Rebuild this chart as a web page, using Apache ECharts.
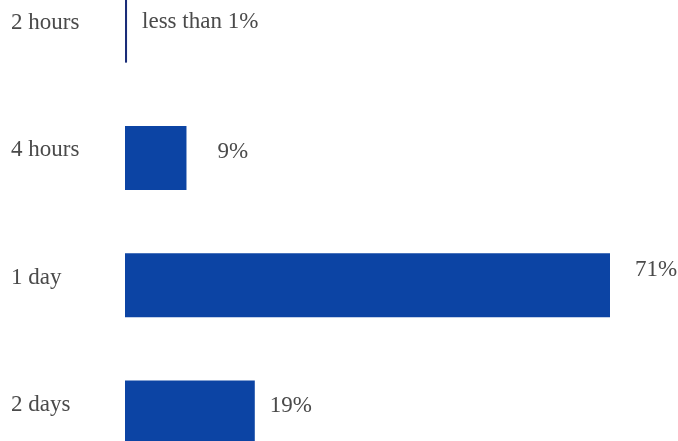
<!DOCTYPE html>
<html>
<head>
<meta charset="utf-8">
<script src="https://cdn.jsdelivr.net/npm/echarts@6/dist/echarts.min.js"></script>
<style>html,body{margin:0;padding:0;background:#fff;}#c{width:678px;height:441px;}</style>
</head>
<body>
<div id="c"></div>
<script>
const categories = ['2 hours', '4 hours', '1 day', '2 days'];
const values = [0.3, 9, 71, 19];
const valueLabels = ['less than 1%', '9%', '71%', '19%'];

// label placement (style only)
const labelDistance = [15, 31, 25, 15];
const labelDy = [-9, -6, -15, -6];

const chart = echarts.init(document.getElementById('c'), null, {renderer: 'canvas'});
const font = '"Liberation Serif", "DejaVu Serif", serif';
chart.setOption({
  animation: false,
  grid: {left: 125, right: 68, top: -33, bottom: -35, containLabel: false, outerBoundsMode: 'none'},
  xAxis: {type: 'value', min: 0, max: 71, show: false},
  yAxis: {
    type: 'category', data: categories, inverse: true,
    axisLine: {show: false}, axisTick: {show: false}, splitLine: {show: false},
    axisLabel: {align: 'left', margin: 114, fontFamily: font, fontSize: 23, color: '#4a4a4a',
      verticalAlign: 'bottom', lineHeight: 15}
  },
  series: [{
    type: 'bar', barWidth: 64,
    itemStyle: {color: '#0c44a4'},
    data: values.map((v, i) => ({
      value: v,
      itemStyle: i === 0 ? {color: '#1a2d78'} : undefined,
      label: {distance: labelDistance[i], offset: [0, labelDy[i]], formatter: valueLabels[i]}
    })),
    label: {show: true, position: 'right', fontFamily: font, fontSize: 23, color: '#4a4a4a'}
  }]
});
</script>
</body>
</html>
